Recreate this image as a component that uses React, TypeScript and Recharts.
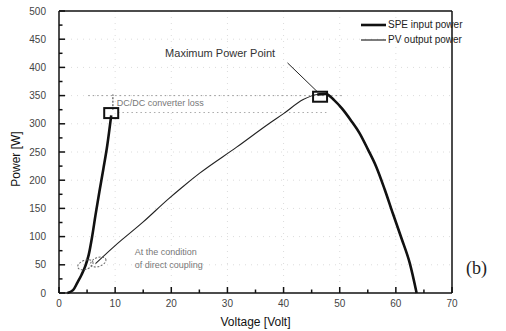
import {
  LineChart,
  Line,
  XAxis,
  YAxis,
  CartesianGrid,
  ReferenceLine,
  ReferenceDot,
  Legend,
} from "recharts";

const xTicks = [0, 5, 10, 15, 20, 25, 30, 35, 40, 45, 50, 55, 60, 65, 70];
const yTicks = [
  0, 25, 50, 75, 100, 125, 150, 175, 200, 225, 250, 275, 300, 325, 350, 375, 400, 425, 450, 475, 500,
];

// SPE input power, steep part at low voltage
const speLeftVoltage = [1.5, 2.5, 3.3, 4.0, 4.7, 5.3, 5.9, 6.5, 7.2, 7.9, 8.6, 9.3];
const speLeftPower = [0, 5, 19, 32, 48, 68, 100, 138, 180, 220, 262, 315];

// PV output power
const pvVoltage = [
  6.5, 10, 15, 19.4, 22, 25, 31.7, 37.5, 40, 43.5, 46, 47.5, 49, 50.5, 52, 53.5, 55, 56.5, 58, 59.5, 61,
  62.5, 63.7,
];
const pvPower = [
  52, 84, 126, 166, 188, 212, 259, 301, 318, 343, 352, 353, 342, 326, 306, 284, 255, 224, 184, 140, 97,
  52, 0,
];

const seriesOrder = ["SPE input power", "PV output power"];

const mpp = { v: 46.5, p: 348 };
const dcdc = { v: 9.3, p: 319 };
const couplingPoints = [
  { v: 4.7, p: 50 },
  { v: 7.0, p: 55 },
];

const pvData = pvVoltage.map((v, i) => ({ v, p: pvPower[i] }));
const speData = [
  ...speLeftVoltage.map((v, i) => ({ v, p: speLeftPower[i] as number | null })),
  { v: 27, p: null },
  ...pvData.filter((d) => d.v >= 46),
];

const font = "Arial, 'Liberation Sans', sans-serif";

// ticks point inward, labels only on the major ones
const BottomTick = (props: any) => {
  const { x, y, payload } = props;
  const major = payload.value % 10 === 0;
  return (
    <g>
      <line x1={x} x2={x} y1={y} y2={y - (major ? 6 : 3.5)} stroke="#111" strokeWidth={1.5} />
      {major && (
        <text x={x} y={y + 14} textAnchor="middle" fontSize={10} fill="#444" fontFamily={font}>
          {payload.value}
        </text>
      )}
    </g>
  );
};

const TopTick = (props: any) => {
  const { x, y, payload } = props;
  const major = payload.value % 10 === 0;
  return (
    <g>
      <line x1={x} x2={x} y1={y} y2={y + (major ? 6 : 3.5)} stroke="#111" strokeWidth={1.5} />
    </g>
  );
};

const LeftTick = (props: any) => {
  const { x, y, payload } = props;
  const major = payload.value % 50 === 0;
  return (
    <g>
      <line x1={x} x2={x + (major ? 6 : 3.5)} y1={y} y2={y} stroke="#111" strokeWidth={1.5} />
      {major && (
        <text x={x - 13} y={y + 3.5} textAnchor="end" fontSize={10} fill="#444" fontFamily={font}>
          {payload.value}
        </text>
      )}
    </g>
  );
};

const RightTick = (props: any) => {
  const { x, y, payload } = props;
  const major = payload.value % 50 === 0;
  return (
    <g>
      <line x1={x} x2={x - (major ? 6 : 3.5)} y1={y} y2={y} stroke="#111" strokeWidth={1.5} />
    </g>
  );
};

const Box = ({ cx, cy }: any) => (
  <rect x={cx - 7} y={cy - 5} width={14} height={10} fill="none" stroke="#111" strokeWidth={2} />
);

const Ellipse = ({ cx, cy }: any) => (
  <ellipse
    cx={cx}
    cy={cy}
    rx={8}
    ry={4.5}
    transform={`rotate(-20 ${cx} ${cy})`}
    fill="none"
    stroke="#666"
    strokeDasharray="2 1.5"
  />
);

const note = (lines: string[], size: number, fill: string) => (p: any) => (
  <text x={p.cx} y={p.cy + size / 3} fontSize={size} fill={fill} fontFamily={font}>
    {lines.map((l, i) => (
      <tspan key={i} x={p.cx} dy={i === 0 ? 0 : 13}>
        {l}
      </tspan>
    ))}
  </text>
);

const LegendBox = ({ payload }: any) => {
  const items = [...(payload || [])].sort(
    (a: any, b: any) => seriesOrder.indexOf(a.value) - seriesOrder.indexOf(b.value)
  );
  return (
    <div style={{ fontFamily: font, fontSize: 10, color: "#222", whiteSpace: "nowrap" }}>
      {items.map((e: any) => (
        <div key={e.value} style={{ display: "flex", alignItems: "center", height: 15 }}>
          <svg width={28} height={10}>
            <line x1={1} x2={26} y1={5} y2={5} stroke="#111" strokeWidth={e.payload?.strokeWidth ?? 1} />
          </svg>
          <span>{e.value}</span>
        </div>
      ))}
    </div>
  );
};

export default function App() {
  return (
    <div style={{ position: "absolute", left: 0, top: 0, width: 506, height: 331, background: "#fff" }}>
      <LineChart width={506} height={331} margin={{ top: 0, right: 0, left: 0, bottom: 0 }}>
        <CartesianGrid
          stroke="#dcdcdc"
          strokeDasharray="1 5"
          verticalValues={[10, 20, 30, 40, 50, 60]}
          horizontalValues={[50, 100, 150, 200, 250, 300, 350, 400, 450]}
        />
        <XAxis
          dataKey="v"
          type="number"
          domain={[0, 70]}
          ticks={xTicks}
          interval={0}
          height={38}
          tickSize={0}
          tickMargin={0}
          tickLine={false}
          tick={<BottomTick />}
          axisLine={{ stroke: "#111", strokeWidth: 1.5 }}
          label={{ value: "Voltage [Volt]", position: "insideBottom", offset: 5, fontSize: 12, fill: "#111", fontFamily: font }}
        />
        <XAxis
          xAxisId="top"
          orientation="top"
          dataKey="v"
          type="number"
          domain={[0, 70]}
          ticks={xTicks}
          interval={0}
          height={11}
          tickSize={0}
          tickMargin={0}
          tickLine={false}
          tick={<TopTick />}
          axisLine={{ stroke: "#111", strokeWidth: 1.5 }}
        />
        <YAxis
          type="number"
          domain={[0, 500]}
          ticks={yTicks}
          interval={0}
          width={59}
          tickSize={0}
          tickMargin={0}
          tickLine={false}
          tick={<LeftTick />}
          axisLine={{ stroke: "#111", strokeWidth: 1.5 }}
          label={(p: any) => (
            <text
              transform={`translate(${p.viewBox.x + 20}, ${p.viewBox.y + p.viewBox.height / 2 + 7}) rotate(-90)`}
              textAnchor="middle"
              fontSize={12}
              fill="#111"
              fontFamily={font}
            >
              Power [W]
            </text>
          )}
        />
        <YAxis
          yAxisId="right"
          orientation="right"
          type="number"
          domain={[0, 500]}
          ticks={yTicks}
          interval={0}
          width={54}
          tickSize={0}
          tickMargin={0}
          tickLine={false}
          tick={<RightTick />}
          axisLine={{ stroke: "#111", strokeWidth: 1.5 }}
        />
        <Legend
          layout="vertical"
          verticalAlign="middle"
          align="center"
          wrapperStyle={{ left: 360, top: 17, width: 110, height: 30 }}
          content={<LegendBox />}
        />

        <ReferenceLine segment={[{ x: 5.2, y: 350 }, { x: 50.6, y: 350 }]} stroke="#999" strokeDasharray="1.5 3" />
        <ReferenceLine segment={[{ x: 10.5, y: 320 }, { x: 48, y: 320 }]} stroke="#aaa" strokeDasharray="1.5 3" />
        <ReferenceLine segment={[{ x: 9.6, y: 325 }, { x: 9.6, y: 352 }]} stroke="#333" strokeDasharray="2 1.5" />
        <ReferenceLine segment={[{ x: 40.7, y: 408 }, { x: 46, y: 357 }]} stroke="#222" />

        <Line
          data={pvData}
          dataKey="p"
          name="PV output power"
          type="monotone"
          stroke="#222"
          strokeWidth={1.1}
          dot={false}
          isAnimationActive={false}
        />
        <Line
          data={speData}
          dataKey="p"
          name="SPE input power"
          type="monotone"
          stroke="#111"
          strokeWidth={2.6}
          dot={false}
          connectNulls={false}
          isAnimationActive={false}
        />

        <ReferenceDot x={mpp.v} y={mpp.p} shape={<Box />} />
        <ReferenceDot x={dcdc.v} y={dcdc.p} shape={<Box />} />
        {couplingPoints.map((c, i) => (
          <ReferenceDot key={i} x={c.v} y={c.p} shape={<Ellipse />} />
        ))}
        <ReferenceDot x={18.9} y={425} shape={note(["Maximum Power Point"], 11, "#333")} />
        <ReferenceDot x={10.3} y={337} shape={note(["DC/DC converter loss"], 9, "#777")} />
        <ReferenceDot x={13.5} y={73} shape={note(["At the condition", "of direct coupling"], 9, "#777")} />
      </LineChart>
      <div
        style={{
          position: "absolute",
          left: 466,
          top: 258,
          fontFamily: "'Liberation Serif', 'Times New Roman', serif",
          fontSize: 18,
          color: "#222",
        }}
      >
        (b)
      </div>
    </div>
  );
}
